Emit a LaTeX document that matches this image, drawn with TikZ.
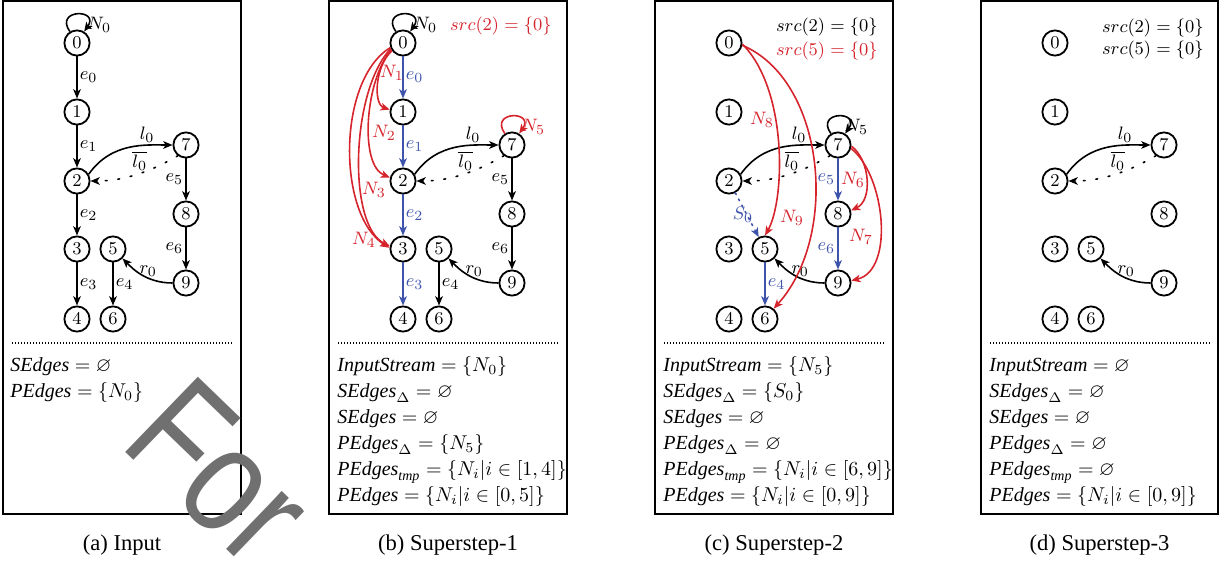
\documentclass[tikz,border=0pt]{standalone}
\usepackage{amsmath,amssymb}
\usepackage{graphicx}
\usepackage[no-math]{fontspec}
\setmainfont{Liberation Serif}
\newfontfamily\markfont{Liberation Sans}
\usetikzlibrary{arrows.meta}

\definecolor{pathred}{RGB}{214,36,44}
\definecolor{seqblue}{RGB}{62,84,172}
\definecolor{markgray}{RGB}{112,112,112}

\newcommand\glabel{\fontsize{9.5}{11.5}\selectfont}
\newcommand\rowfont{\fontsize{10}{12}\selectfont}
\newcommand\capfont{\fontsize{11.3}{13}\selectfont}
\newcommand\vname[1]{\text{\itshape #1}}

\tikzset{
  vtx/.style={circle, draw, line width=0.9pt, minimum size=12.6pt, inner sep=0pt, font=\glabel},
  conn/.style={line width=0.8pt, -{Stealth[length=4.6pt,width=3.8pt,inset=1.2pt]}},
  dotconn/.style={conn, dash pattern=on 0.9pt off 5.4pt, line cap=round},
  seq/.style={conn, draw=seqblue},
  seqdot/.style={conn, draw=seqblue, dash pattern=on 0.9pt off 2.6pt, line cap=round},
  pth/.style={conn, draw=pathred},
  lbl/.style={font=\glabel, inner sep=1pt},
  seqlbl/.style={lbl, text=seqblue},
  pthlbl/.style={lbl, text=pathred},
  panelframe/.style={line width=1pt},
  sepline/.style={line width=0.6pt, dash pattern=on 0.6pt off 0.9pt},
  rowtext/.style={anchor=base west, inner sep=0pt, font=\rowfont},
  captext/.style={anchor=base, inner sep=0pt, font=\capfont},
}

% the ten vertices of the example graph, same layout in every panel
\newcommand\vertices{%
  \foreach \n/\px/\py in {0/74/43,1/74/112,2/74/181,3/74/249,4/74/319,
                          5/110/249,6/110/319,7/183/145,8/183/214,9/183/283}
    {\node[vtx] (v\n) at (\px,-\py) {$\n$};}%
}
% a self loop drawn on top of a vertex
\newcommand\selfloop[2]{%
  \draw[#1] (#2.122) .. controls +(125:28) and +(55:28) .. (#2.58);%
}
% the two link edges and the reverse edge shared by all panels
\newcommand\linkedges{%
  \draw[conn] (v2.30) to[out=55,in=180] node[lbl,above,pos=0.7]{$l_0$} (v7);
  \draw[dotconn] (v7.233) to[out=210,in=0] node[lbl,above,pos=0.4]{$\overline{l_0}$} (v2);
  \draw[conn] (v9) to[out=180,in=-45] node[lbl,above,pos=0.36,inner sep=0.5pt]{$r_0$} (v5);%
}

\begin{document}
\begin{tikzpicture}[x=0.5pt,y=0.5pt]
\useasboundingbox (0,0) rectangle (1225,-565);

% ---------------- (a) Input ----------------
\begin{scope}[shift={(3,0)}, name prefix=a-]
  \draw[panelframe] (0,-1.5) rectangle (238,-514.5);
  \vertices
  \selfloop{conn}{v0}
  \node[lbl, anchor=west, inner sep=0pt] (n0) at (84,-25) {$N_0$};
  \draw[conn] (v0) -- node[lbl,right]{$e_0$} (v1);
  \draw[conn] (v1) -- node[lbl,right]{$e_1$} (v2);
  \draw[conn] (v2) -- node[lbl,right]{$e_2$} (v3);
  \draw[conn] (v3) -- node[lbl,right]{$e_3$} (v4);
  \draw[conn] (v5) -- node[lbl,right]{$e_4$} (v6);
  \draw[conn] (v7) -- node[lbl,left]{$e_5$} (v8);
  \draw[conn] (v8) -- node[lbl,left]{$e_6$} (v9);
  \linkedges
  \draw[sepline] (9,-343) -- (229,-343);
  \node[rowtext] (r1) at (7,-371.7) {$\vname{SEdges} = \varnothing$};
  \node[rowtext] (r2) at (7,-397.7) {$\vname{PEdges} = \{N_0\}$};
  \node[captext] (cap) at (119,-551) {(a) Input};
\end{scope}

% ---------------- (b) Superstep-1 ----------------
\begin{scope}[shift={(329,0)}, name prefix=b-]
  \draw[panelframe] (0,-1.5) rectangle (238,-514.5);
  \vertices
  \node[pthlbl, anchor=east] (src) at (225,-26) {$src(2) = \{0\}$};
  \selfloop{conn}{v0}
  \node[lbl, anchor=west, inner sep=0pt] (n0) at (84,-25) {$N_0$};
  \selfloop{pth}{v7}
  \node[pthlbl, anchor=west, inner sep=0pt] (n5) at (192,-127) {$N_5$};
  \draw[seq] (v0) -- node[seqlbl,right]{$e_0$} (v1);
  \draw[seq] (v1) -- node[seqlbl,right]{$e_1$} (v2);
  \draw[seq] (v2) -- node[seqlbl,right]{$e_2$} (v3);
  \draw[seq] (v3) -- node[seqlbl,right]{$e_3$} (v4);
  \draw[conn] (v5) -- node[lbl,right]{$e_4$} (v6);
  \draw[conn] (v7) -- node[lbl,left]{$e_5$} (v8);
  \draw[conn] (v8) -- node[lbl,left]{$e_6$} (v9);
  \linkedges
  % path edges found from vertex 0
  \draw[pth] (v0.215) .. controls (46,-66) and (44,-104) .. (v1.170);
  \draw[pth] (v0.210) .. controls (36,-80) and (30,-165) .. (v2.165);
  \draw[pth] (v0.205) .. controls (22,-90) and (18,-225) .. (v3.168);
  \draw[pth] (v0.200) .. controls (8,-80) and (8,-215) .. (v3.175);
  \node[pthlbl] (n1) at (63,-73) {$N_1$};
  \node[pthlbl] (n2) at (55,-133) {$N_2$};
  \node[pthlbl] (n3) at (45,-190) {$N_3$};
  \node[pthlbl] (n4) at (35,-240) {$N_4$};
  \draw[sepline] (9,-343) -- (229,-343);
  \node[rowtext] (r1) at (8,-371.7) {$\vname{InputStream} = \{N_0\}$};
  \node[rowtext] (r2) at (8,-397.7) {$\vname{SEdges}_\Delta = \varnothing$};
  \node[rowtext] (r3) at (8,-423.7) {$\vname{SEdges} = \varnothing$};
  \node[rowtext] (r4) at (8,-449.7) {$\vname{PEdges}_\Delta = \{N_5\}$};
  \node[rowtext] (r5) at (8,-475.7) {$\vname{PEdges}_{\vname{tmp}} = \{N_i|i \in [1,4]\}$};
  \node[rowtext] (r6) at (8,-501.7) {$\vname{PEdges} = \{N_i|i \in [0,5]\}$};
  \node[captext] (cap) at (119,-551) {(b) Superstep-1};
\end{scope}

% ---------------- (c) Superstep-2 ----------------
\begin{scope}[shift={(655,0)}, name prefix=c-]
  \draw[panelframe] (0,-1.5) rectangle (238,-514.5);
  \vertices
  \node[lbl, anchor=east] (src2) at (225,-27) {$src(2) = \{0\}$};
  \node[pthlbl, anchor=east] (src5) at (225,-51) {$src(5) = \{0\}$};
  \selfloop{conn}{v7}
  \node[lbl, anchor=west, inner sep=0pt] (n5) at (189,-127) {$N_5$};
  \draw[seq] (v5) -- node[seqlbl,right]{$e_4$} (v6);
  \draw[seq] (v7) -- node[seqlbl,left]{$e_5$} (v8);
  \draw[seq] (v8) -- node[seqlbl,left]{$e_6$} (v9);
  \draw[seqdot] (v2) -- (v5);
  \node[seqlbl] (s0) at (88,-215) {$S_0$};
  \linkedges
  % path edges found in this superstep
  \draw[pth] (v0.-5) .. controls (133,-90) and (130,-200) .. (v5.north);
  \draw[pth] (v0.-10) .. controls (170,-80) and (185,-235) .. (v6.50);
  \draw[pth] (v7.-5) .. controls (215,-160) and (218,-200) .. (v8.15);
  \draw[pth] (v7.-15) .. controls (230,-175) and (240,-270) .. (v9.10);
  \node[pthlbl] (n8) at (107,-120) {$N_8$};
  \node[pthlbl] (n9) at (137,-218) {$N_9$};
  \node[pthlbl] (n6) at (198,-180) {$N_6$};
  \node[pthlbl] (n7) at (206,-237) {$N_7$};
  \draw[sepline] (9,-343) -- (229,-343);
  \node[rowtext] (r1) at (8,-371.7) {$\vname{InputStream} = \{N_5\}$};
  \node[rowtext] (r2) at (8,-397.7) {$\vname{SEdges}_\Delta = \{S_0\}$};
  \node[rowtext] (r3) at (8,-423.7) {$\vname{SEdges} = \varnothing$};
  \node[rowtext] (r4) at (8,-449.7) {$\vname{PEdges}_\Delta = \varnothing$};
  \node[rowtext] (r5) at (8,-475.7) {$\vname{PEdges}_{\vname{tmp}} = \{N_i|i \in [6,9]\}$};
  \node[rowtext] (r6) at (8,-501.7) {$\vname{PEdges} = \{N_i|i \in [0,9]\}$};
  \node[captext] (cap) at (119,-551) {(c) Superstep-2};
\end{scope}

% ---------------- (d) Superstep-3 ----------------
\begin{scope}[shift={(981,0)}, name prefix=d-]
  \draw[panelframe] (0,-1.5) rectangle (237,-514.5);
  \vertices
  \node[lbl, anchor=east] (src2) at (225,-28) {$src(2) = \{0\}$};
  \node[lbl, anchor=east] (src5) at (225,-50) {$src(5) = \{0\}$};
  \linkedges
  \draw[sepline] (9,-343) -- (229,-343);
  \node[rowtext] (r1) at (8,-371.7) {$\vname{InputStream} = \varnothing$};
  \node[rowtext] (r2) at (8,-397.7) {$\vname{SEdges}_\Delta = \varnothing$};
  \node[rowtext] (r3) at (8,-423.7) {$\vname{SEdges} = \varnothing$};
  \node[rowtext] (r4) at (8,-449.7) {$\vname{PEdges}_\Delta = \varnothing$};
  \node[rowtext] (r5) at (8,-475.7) {$\vname{PEdges}_{\vname{tmp}} = \varnothing$};
  \node[rowtext] (r6) at (8,-501.7) {$\vname{PEdges} = \{N_i|i \in [0,9]\}$};
  \node[captext] (cap) at (118.5,-551) {(d) Superstep-3};
\end{scope}

% stamp lettering across the first panel
\node[anchor=base west, inner sep=0pt, rotate=-44, text=markgray,
      font=\markfont\fontsize{76}{80}\selectfont] (stamp) at (118,-445)
      {\scalebox{0.8}[1]{For}};
\end{tikzpicture}
\end{document}
